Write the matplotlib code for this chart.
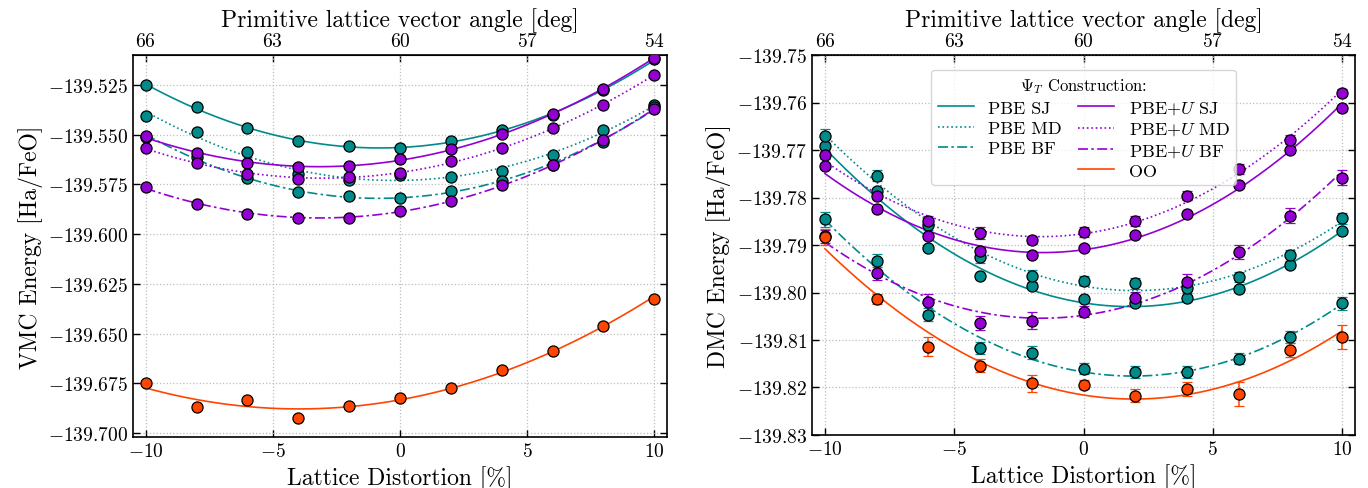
import numpy as np
import matplotlib
matplotlib.use("Agg")
import matplotlib.pyplot as plt
from matplotlib.lines import Line2D
from matplotlib.ticker import MultipleLocator

plt.rcParams['font.family'] = 'serif'
plt.rcParams['font.serif'] = ['cmr10']
plt.rcParams['mathtext.fontset'] = 'cm'
plt.rcParams['axes.formatter.use_mathtext'] = True
plt.rcParams['axes.formatter.useoffset'] = False
plt.rcParams['axes.unicode_minus'] = True

distortion = [-10, -8, -6, -4, -2, 0, 2, 4, 6, 8, 10]

# VMC energies [Ha/FeO]
pbe_sj_vmc = [-139.5250, -139.5363, -139.5468, -139.5533, -139.5558, -139.5567, -139.5532, -139.5475, -139.5403, -139.5278, -139.5120]
pbe_md_vmc = [-139.5407, -139.5488, -139.5588, -139.5700, -139.5730, -139.5705, -139.5713, -139.5685, -139.5603, -139.5478, -139.5350]
pbe_bf_vmc = [-139.5510, -139.5612, -139.5720, -139.5787, -139.5808, -139.5818, -139.5785, -139.5732, -139.5653, -139.5537, -139.5360]
pbeu_sj_vmc = [-139.5508, -139.5592, -139.5645, -139.5663, -139.5657, -139.5623, -139.5573, -139.5498, -139.5395, -139.5270, -139.5115]
pbeu_md_vmc = [-139.5565, -139.5645, -139.5697, -139.5722, -139.5715, -139.5692, -139.5635, -139.5567, -139.5465, -139.5350, -139.5202]
pbeu_bf_vmc = [-139.5763, -139.5848, -139.5900, -139.5920, -139.5917, -139.5883, -139.5832, -139.5753, -139.5653, -139.5527, -139.5373]
oo_vmc = [-139.6748, -139.6870, -139.6833, -139.6922, -139.6865, -139.6825, -139.6772, -139.6682, -139.6587, -139.6460, -139.6325]
err_vmc = [0.0004] * 11
err_oo_vmc = [0.0008] * 11

# DMC energies [Ha/FeO]
pbe_sj_dmc = [-139.7692, -139.7786, -139.7906, -139.7965, -139.7987, -139.8014, -139.8023, -139.8012, -139.7993, -139.7942, -139.7871]
pbe_md_dmc = [-139.7671, -139.7754, -139.7857, -139.7926, -139.7965, -139.7975, -139.7981, -139.7991, -139.7967, -139.7922, -139.7844]
pbe_bf_dmc = [-139.7846, -139.7933, -139.8047, -139.8117, -139.8127, -139.8160, -139.8168, -139.8168, -139.8139, -139.8094, -139.8023]
pbeu_sj_dmc = [-139.7734, -139.7825, -139.7882, -139.7912, -139.7920, -139.7907, -139.7878, -139.7835, -139.7774, -139.7701, -139.7612]
pbeu_md_dmc = [-139.7710, -139.7796, -139.7850, -139.7875, -139.7890, -139.7873, -139.7849, -139.7796, -139.7740, -139.7678, -139.7579]
pbeu_bf_dmc = [-139.7882, -139.7958, -139.8021, -139.8064, -139.8059, -139.8040, -139.8012, -139.7977, -139.7914, -139.7838, -139.7758]
oo_dmc = [-139.7884, -139.8014, -139.8114, -139.8154, -139.8191, -139.8194, -139.8217, -139.8203, -139.8214, -139.8121, -139.8094]

err_sj_dmc = [0.0005] * 11
err_md_dmc = [0.0015, 0.0012, 0.0012, 0.0011, 0.0012, 0.0010, 0.0012, 0.0011, 0.0010, 0.0011, 0.0012]
err_bf_dmc = [0.0016, 0.0014, 0.0014, 0.0012, 0.0014, 0.0011, 0.0013, 0.0013, 0.0012, 0.0012, 0.0013]
err_pbeu_md_dmc = [0.0008, 0.0008, 0.0010, 0.0012, 0.0008, 0.0010, 0.0011, 0.0010, 0.0010, 0.0010, 0.0008]
err_pbeu_bf_dmc = [0.0014, 0.0015, 0.0018, 0.0014, 0.0017, 0.0012, 0.0014, 0.0016, 0.0015, 0.0016, 0.0016]
err_oo_dmc = [0.0017, 0.0010, 0.0020, 0.0014, 0.0018, 0.0010, 0.0014, 0.0015, 0.0025, 0.0015, 0.0025]

teal = '#008b8b'
purple = '#9400d3'
orange = '#ff4500'

xfit = np.linspace(-10, 10, 200)


def plot_series(ax, y, err, color, ls):
    c = np.polyfit(distortion, y, 2)
    ax.plot(xfit, np.polyval(c, xfit), color=color, ls=ls, lw=1.2, zorder=2)
    ax.errorbar(distortion, y, yerr=err, fmt='o', color=color, mfc=color, mec='black',
                ms=8, mew=0.9, ecolor=color, elinewidth=1.1, capsize=3.5, zorder=3)


fig = plt.figure(figsize=(13.68, 4.89), dpi=100)
ax1 = fig.add_axes([133/1368, (489-438)/489, 534/1368, 382/489])
ax2 = fig.add_axes([812/1368, (489-436)/489, 543/1368, 380/489])

dashdot = (0, (6, 2, 1.5, 2))

plot_series(ax1, pbe_sj_vmc, err_vmc, teal, '-')
plot_series(ax1, pbe_md_vmc, err_vmc, teal, ':')
plot_series(ax1, pbe_bf_vmc, err_vmc, teal, dashdot)
plot_series(ax1, pbeu_sj_vmc, err_vmc, purple, '-')
plot_series(ax1, pbeu_md_vmc, err_vmc, purple, ':')
plot_series(ax1, pbeu_bf_vmc, err_vmc, purple, dashdot)
plot_series(ax1, oo_vmc, err_oo_vmc, orange, '-')

plot_series(ax2, pbe_sj_dmc, err_sj_dmc, teal, '-')
plot_series(ax2, pbe_md_dmc, err_md_dmc, teal, ':')
plot_series(ax2, pbe_bf_dmc, err_bf_dmc, teal, dashdot)
plot_series(ax2, pbeu_sj_dmc, err_sj_dmc, purple, '-')
plot_series(ax2, pbeu_md_dmc, err_pbeu_md_dmc, purple, ':')
plot_series(ax2, pbeu_bf_dmc, err_pbeu_bf_dmc, purple, dashdot)
plot_series(ax2, oo_dmc, err_oo_dmc, orange, '-')

ax1.set_ylim(-139.702, -139.51)
ax1.yaxis.set_major_locator(MultipleLocator(0.025))
ax2.set_ylim(-139.83, -139.75)
ax2.yaxis.set_major_locator(MultipleLocator(0.01))

for ax in (ax1, ax2):
    ax.set_xlim(-10.5, 10.5)
    ax.xaxis.set_major_locator(MultipleLocator(5))
    ax.grid(True, ls=':', color='#bdbdbd', lw=0.9)
    ax.tick_params(direction='in', labelsize=14, right=True, length=5, width=1)
    ax.set_xlabel('Lattice Distortion [%]', fontsize=17)
    for s in ax.spines.values():
        s.set_linewidth(1.2)
    sec = ax.secondary_xaxis('top', functions=(lambda d: 60 - 0.6 * d, lambda a: (60 - a) / 0.6))
    sec.set_xticks([66, 63, 60, 57, 54])
    sec.tick_params(direction='in', labelsize=14, length=5, width=1)
    sec.set_xlabel('Primitive lattice vector angle [deg]', fontsize=17)

ax1.set_ylabel('VMC Energy [Ha/FeO]', fontsize=17)
ax2.set_ylabel('DMC Energy [Ha/FeO]', fontsize=17)

blank = Line2D([], [], alpha=0)
handles = [
    Line2D([], [], color=teal, ls='-', lw=1.2),
    Line2D([], [], color=teal, ls=':', lw=1.2),
    Line2D([], [], color=teal, ls=dashdot, lw=1.2),
    blank,
    Line2D([], [], color=purple, ls='-', lw=1.2),
    Line2D([], [], color=purple, ls=':', lw=1.2),
    Line2D([], [], color=purple, ls=dashdot, lw=1.2),
    Line2D([], [], color=orange, ls='-', lw=1.2),
]
labels = ['PBE SJ', 'PBE MD', 'PBE BF', ' ',
          'PBE+$U$ SJ', 'PBE+$U$ MD', 'PBE+$U$ BF', 'OO']
leg = ax2.legend(handles, labels, ncol=2, loc='upper center', bbox_to_anchor=(0.5, 0.985),
                 title=r'$\Psi_T$ Construction:', fontsize=13, title_fontsize=12,
                 columnspacing=0.9, handlelength=2.0, handletextpad=0.8, labelspacing=0.25,
                 borderpad=0.35)
leg.set_zorder(5)

fig.savefig('out.png', dpi=100)
